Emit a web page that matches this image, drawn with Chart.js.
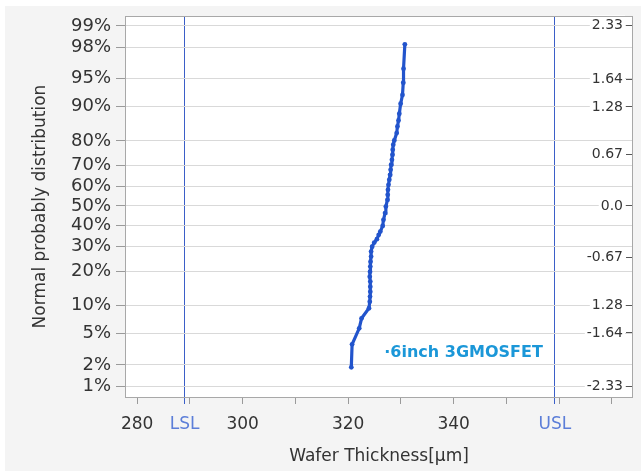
<!DOCTYPE html>
<html>
<head>
<meta charset="utf-8">
<script src="https://cdn.jsdelivr.net/npm/chart.js@4"></script>
<style>
  html, body { margin: 0; padding: 0; background: #fff; }
  canvas { display: block; }
</style>
</head>
<body>
<canvas id="myChart" width="641" height="473"></canvas>
<script>
// thickness values (sorted) and their normal scores
const thickness = [
  320.6, 320.75, 322.1, 322.55, 323.95, 324.1, 324.15, 324.2, 324.2, 324.2,
  324.1, 324.15, 324.2, 324.25, 324.35, 324.35, 324.55, 324.95, 325.45, 325.8,
  326.1, 326.55, 326.7, 327.0, 327.15, 327.45, 327.5, 327.55, 327.65, 327.8,
  327.95, 328.05, 328.15, 328.3, 328.4, 328.45, 328.55, 328.75, 329.2, 329.35,
  329.55, 329.7, 329.95, 330.3, 330.45, 330.5, 330.75
];
const normalScore = [
  -2.085, -1.787, -1.58, -1.451, -1.321, -1.236, -1.171, -1.107, -1.042, -0.977,
  -0.913, -0.848, -0.783, -0.719, -0.654, -0.589, -0.525, -0.473, -0.429, -0.373,
  -0.331, -0.257, -0.179, -0.092, -0.007, 0.08, 0.144, 0.209, 0.274, 0.339,
  0.403, 0.468, 0.533, 0.597, 0.662, 0.727, 0.792, 0.847, 0.942, 1.028,
  1.105, 1.192, 1.321, 1.434, 1.593, 1.774, 2.089
];

// left axis: cumulative percent labels at their normal scores
const pctLabels = ["99%", "98%", "95%", "90%", "80%", "70%", "60%", "50%", "40%", "30%", "20%", "10%", "5%", "2%", "1%"];
const pctZ = [2.326, 2.054, 1.645, 1.282, 0.842, 0.524, 0.253, 0, -0.253, -0.524, -0.842, -1.282, -1.645, -2.054, -2.326];

// right axis: sigma labels
const sigmaZ = [2.33, 1.64, 1.28, 0.67, 0, -0.67, -1.28, -1.64, -2.33];
const sigmaLabels = ["2.33", "1.64", "1.28", "0.67", "0.0", "-0.67", "1.28", "-1.64", "-2.33"];

// bottom axis
const xTickValues = [280, 290, 300, 310, 320, 330, 340, 350, 360, 370];
const xTickLabels = ["280", "", "300", "", "320", "", "340", "", "", ""];
const LSL = 289;
const USL = 359.2;

const seriesName = "\u00b76inch 3GMOSFET";

function isLimit(v) {
  return v === LSL || v === USL;
}

const backgroundPlugin = {
  id: "bg",
  beforeDraw: (chart) => {
    const ctx = chart.ctx;
    const a = chart.chartArea;
    ctx.save();
    ctx.fillStyle = "#ffffff";
    ctx.fillRect(0, 0, chart.width, chart.height);
    ctx.fillStyle = "#f4f4f4";
    ctx.fillRect(5, 6, chart.width - 5, chart.height - 8);
    ctx.fillStyle = "#ffffff";
    ctx.fillRect(a.left, a.top, a.right - a.left, a.bottom - a.top);
    ctx.restore();
  },
  afterDraw: (chart) => {
    const ctx = chart.ctx;
    const a = chart.chartArea;
    ctx.save();
    ctx.strokeStyle = "#a8a8a8";
    ctx.lineWidth = 1;
    ctx.strokeRect(a.left + 0.5, a.top + 0.5, a.right - a.left - 1, a.bottom - a.top);
    // series label inside the plot
    const x = chart.scales.x.getPixelForValue(326.85);
    const y = chart.scales.y.getPixelForValue(-1.9);
    ctx.font = "bold 16px 'DejaVu Sans'";
    ctx.fillStyle = "#1b97d8";
    ctx.textAlign = "left";
    ctx.textBaseline = "middle";
    ctx.fillText(seriesName, x, y);
    ctx.restore();
  },
};

var ctx = document.getElementById("myChart").getContext("2d");
var chart = new Chart(ctx, {
  type: "scatter",
  data: {
    datasets: [
      {
        label: seriesName,
        data: thickness.map((t, i) => ({ x: t, y: normalScore[i] })),
        showLine: true,
        borderColor: "#2254cc",
        backgroundColor: "#2254cc",
        borderWidth: 3.2,
        pointRadius: 2.4,
        pointBorderWidth: 0,
      },
    ],
  },
  options: {
    responsive: false,
    animation: false,
    layout: { padding: { top: 16, left: 0, right: 0, bottom: 0 } },
    plugins: {
      legend: { display: false },
      tooltip: { enabled: false },
    },
    scales: {
      x: {
        type: "linear",
        position: "bottom",
        min: 277.7,
        max: 374,
        afterFit: (scale) => { scale.height = 76; },
        afterBuildTicks: (scale) => {
          const vals = xTickValues.concat([LSL, USL]).sort((a, b) => a - b);
          scale.ticks = vals.map((v) => ({ value: v }));
        },
        border: { display: false },
        grid: {
          drawOnChartArea: true,
          color: (c) => (c.tick && isLimit(c.tick.value) ? "#3b5fc8" : "rgba(0,0,0,0)"),
          tickColor: (c) => (c.tick && isLimit(c.tick.value) ? "#3b5fc8" : "#9a9a9a"),
          tickLength: 7,
        },
        ticks: {
          autoSkip: false,
          maxRotation: 0,
          minRotation: 0,
          padding: 10,
          font: { family: "'DejaVu Sans'", size: 17 },
          color: (c) => (c.tick && isLimit(c.tick.value) ? "#5c7ed8" : "#333333"),
          callback: (v) => {
            if (v === LSL) return "LSL";
            if (v === USL) return "USL";
            const i = xTickValues.indexOf(v);
            return i >= 0 ? xTickLabels[i] : "";
          },
        },
        title: {
          display: true,
          text: "Wafer Thickness[\u03bcm]",
          color: "#333333",
          font: { family: "'DejaVu Sans'", size: 17 },
          padding: { top: 0, bottom: 6 },
        },
      },
      y: {
        type: "linear",
        position: "left",
        min: -2.468,
        max: 2.455,
        afterFit: (scale) => { scale.width = 125; },
        afterBuildTicks: (scale) => {
          scale.ticks = pctZ.map((v) => ({ value: v }));
        },
        border: { display: false },
        grid: {
          color: "#d9d9d9",
          tickColor: "#9a9a9a",
          tickLength: 9,
        },
        ticks: {
          autoSkip: false,
          padding: 5,
          font: { family: "'DejaVu Sans'", size: 18 },
          color: "#333333",
          callback: (v) => {
            const i = pctZ.indexOf(v);
            return i >= 0 ? pctLabels[i] : "";
          },
        },
        title: {
          display: true,
          text: "Normal probably distribution",
          color: "#333333",
          font: { family: "'DejaVu Sans'", size: 17 },
          padding: { top: 30, bottom: 0 },
        },
      },
      y2: {
        type: "linear",
        position: "right",
        min: -2.468,
        max: 2.455,
        afterFit: (scale) => { scale.width = 8; },
        afterBuildTicks: (scale) => {
          scale.ticks = sigmaZ.map((v) => ({ value: v }));
        },
        border: { display: false },
        grid: {
          drawOnChartArea: false,
          drawTicks: true,
          tickLength: -7,
          tickColor: "#555555",
        },
        ticks: {
          autoSkip: false,
          mirror: true,
          padding: -10,
          font: { family: "'DejaVu Sans'", size: 14 },
          color: "#333333",
          showLabelBackdrop: true,
          backdropColor: "#ffffff",
          backdropPadding: 2,
          callback: (v) => {
            const i = sigmaZ.indexOf(v);
            return i >= 0 ? sigmaLabels[i] : "";
          },
        },
      },
    },
  },
  plugins: [backgroundPlugin],
});
</script>
</body>
</html>
